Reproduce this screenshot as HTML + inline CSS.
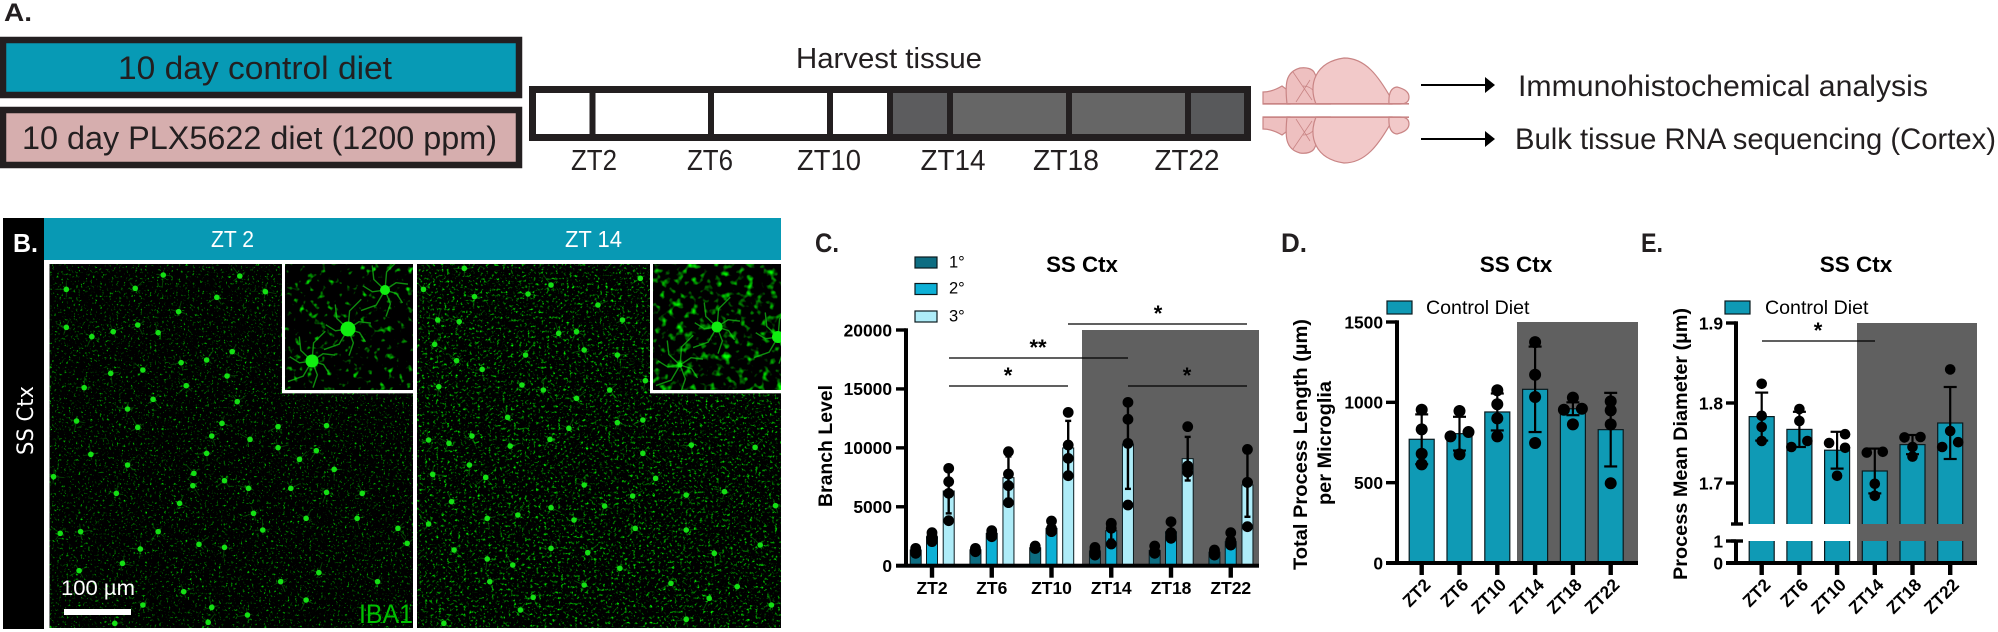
<!DOCTYPE html>
<html lang="en">
<head>
<meta charset="utf-8">
<title>Microglia morphology figure</title>
<style>
html,body{margin:0;padding:0;background:#fff;}
svg{display:block;}
text{font-family:"Liberation Sans",sans-serif;}
.cal{fill:#231f20;}
.bold{font-weight:bold;}
</style>
</head>
<body>
<svg id="fig" xmlns="http://www.w3.org/2000/svg" width="1998" height="632" viewBox="0 0 1998 632">
<defs>
<filter id="noiseL" x="0" y="0" width="100%" height="100%" color-interpolation-filters="sRGB">
<feTurbulence type="fractalNoise" baseFrequency="0.42" numOctaves="3" seed="3"/>
<feColorMatrix type="matrix" values="0 0 0 0 0  3.5 0 0 0 -2.17  0 0 0 0 0  0 0 0 0 1"/>
</filter>
<filter id="noiseR" x="0" y="0" width="100%" height="100%" color-interpolation-filters="sRGB">
<feTurbulence type="fractalNoise" baseFrequency="0.36" numOctaves="3" seed="11"/>
<feColorMatrix type="matrix" values="0 0 0 0 0  3.5 0 0 0 -2.03  0 0 0 0 0  0 0 0 0 1"/>
</filter>
<filter id="noiseIL" x="0" y="0" width="100%" height="100%" color-interpolation-filters="sRGB">
<feTurbulence type="fractalNoise" baseFrequency="0.15" numOctaves="2" seed="7"/>
<feColorMatrix type="matrix" values="0 0 0 0 0  4 0 0 0 -2.42  0 0 0 0 0  0 0 0 0 1"/>
</filter>
<filter id="noiseIR" x="0" y="0" width="100%" height="100%" color-interpolation-filters="sRGB">
<feTurbulence type="fractalNoise" baseFrequency="0.13" numOctaves="2" seed="21"/>
<feColorMatrix type="matrix" values="0 0 0 0 0  3.4 0 0 0 -1.82  0 0 0 0 0  0 0 0 0 1"/>
</filter>
<clipPath id="clipL"><rect x="49.5" y="264" width="363.5" height="364"/></clipPath>
<clipPath id="clipR"><rect x="417" y="264" width="364" height="364"/></clipPath>
<clipPath id="clipIL"><rect x="285" y="264" width="128" height="126"/></clipPath>
<clipPath id="clipIR"><rect x="653" y="264" width="128" height="126"/></clipPath>
</defs>

<!-- Panel A -->
<g>
<text class="cal bold" x="4" y="21" font-size="25" textLength="28" lengthAdjust="spacingAndGlyphs">A.</text>
<rect x="3" y="40" width="516" height="55" fill="#079ab5" stroke="#231f20" stroke-width="6.5"/>
<text class="cal" x="118" y="79" font-size="32" textLength="274" lengthAdjust="spacingAndGlyphs">10 day control diet</text>
<rect x="3" y="110" width="516" height="55" fill="#d6aeae" stroke="#231f20" stroke-width="6.5"/>
<text class="cal" x="22" y="149" font-size="32" textLength="475" lengthAdjust="spacingAndGlyphs">10 day PLX5622 diet (1200 ppm)</text>
<text class="cal" x="796" y="68" font-size="29" textLength="186" lengthAdjust="spacingAndGlyphs">Harvest tissue</text>
<g>
<rect x="536" y="93" width="354" height="41" fill="#fff"/>
<rect x="890" y="93" width="60" height="41" fill="#5c5c5e"/>
<rect x="950" y="93" width="238" height="41" fill="#666666"/>
<rect x="1188" y="93" width="57" height="41" fill="#58595b"/>
<rect x="532.5" y="89.5" width="715" height="48" fill="none" stroke="#231f20" stroke-width="7"/>
<g fill="#231f20">
<rect x="589.5" y="86" width="6" height="55"/>
<rect x="708" y="86" width="6" height="55"/>
<rect x="827" y="86" width="6" height="55"/>
<rect x="887" y="86" width="6" height="55"/>
<rect x="947" y="86" width="6" height="55"/>
<rect x="1066" y="86" width="6" height="55"/>
<rect x="1185" y="86" width="6" height="55"/>
</g>
<g class="cal" font-size="29" text-anchor="middle">
<text class="cal" x="594" y="170" textLength="46" lengthAdjust="spacingAndGlyphs">ZT2</text>
<text class="cal" x="710" y="170" textLength="46" lengthAdjust="spacingAndGlyphs">ZT6</text>
<text class="cal" x="829" y="170" textLength="64" lengthAdjust="spacingAndGlyphs">ZT10</text>
<text class="cal" x="953" y="170" textLength="65" lengthAdjust="spacingAndGlyphs">ZT14</text>
<text class="cal" x="1066" y="170" textLength="66" lengthAdjust="spacingAndGlyphs">ZT18</text>
<text class="cal" x="1187" y="170" textLength="65" lengthAdjust="spacingAndGlyphs">ZT22</text>
</g>
</g>
<g fill="#f2c9c9" stroke="#c98585" stroke-width="1.2">
<path d="M1263,104 L1263,92 Q1272,92 1282,86 L1290,92 L1290,104 Z" fill="#eec0c0"/>
<path d="M1287,104 C1285,85 1285,72 1300,68 C1307,67 1312,69 1314,72 L1330,104 Z" fill="#eec0c0"/>
<path d="M1293,72 L1312,100 M1310,80 L1296,102 M1303,86 Q1314,86 1318,100" fill="none" stroke-width="0.8"/>
<path d="M1316,104 C1308,85 1315,62 1344,58 C1365,58 1378,75 1392,100 L1392,104 Z"/>
<path d="M1389,104 Q1388,88 1397,87 Q1409,90 1409,97 Q1409,104 1400,104 Z"/>
<rect x="1263" y="103" width="146" height="1.6" fill="#c98585" stroke="none"/>
</g>
<g transform="translate(0,221) scale(1,-1)" fill="#f2c9c9" stroke="#c98585" stroke-width="1.2">
<path d="M1263,104 L1263,92 Q1272,92 1282,86 L1290,92 L1290,104 Z" fill="#eec0c0"/>
<path d="M1287,104 C1285,85 1285,72 1300,68 C1307,67 1312,69 1314,72 L1330,104 Z" fill="#eec0c0"/>
<path d="M1293,72 L1312,100 M1310,80 L1296,102 M1303,86 Q1314,86 1318,100" fill="none" stroke-width="0.8"/>
<path d="M1316,104 C1308,85 1315,62 1344,58 C1365,58 1378,75 1392,100 L1392,104 Z"/>
<path d="M1389,104 Q1388,88 1397,87 Q1409,90 1409,97 Q1409,104 1400,104 Z"/>
<rect x="1263" y="103" width="146" height="1.6" fill="#c98585" stroke="none"/>
</g>
<g>
<line x1="1421" y1="85" x2="1488" y2="85" stroke="#000" stroke-width="2"/>
<path d="M1485,77 L1495,85 L1485,93 Z" fill="#000"/>
</g>
<g>
<line x1="1421" y1="139" x2="1488" y2="139" stroke="#000" stroke-width="2"/>
<path d="M1485,131 L1495,139 L1485,147 Z" fill="#000"/>
</g>
<text class="cal" x="1518" y="96" font-size="30" textLength="410" lengthAdjust="spacingAndGlyphs">Immunohistochemical analysis</text>
<text class="cal" x="1515" y="149" font-size="30" textLength="481" lengthAdjust="spacingAndGlyphs">Bulk tissue RNA sequencing (Cortex)</text>
</g>

<!-- Panel B -->
<g>
<rect x="3" y="218" width="41" height="411" fill="#000"/>
<rect x="44" y="218" width="737" height="42" fill="#0899b4"/>
<text class="bold" x="13" y="252" fill="#fff" font-size="26" textLength="25" lengthAdjust="spacingAndGlyphs">B.</text>
<text x="211" y="247" fill="#fff" font-size="23" textLength="43" lengthAdjust="spacingAndGlyphs">ZT 2</text>
<text x="565" y="247" fill="#fff" font-size="23" textLength="57" lengthAdjust="spacingAndGlyphs">ZT 14</text>
<text transform="translate(33,455) rotate(-90)" fill="#fff" font-size="22" textLength="69" lengthAdjust="spacingAndGlyphs" style="font-family:'DejaVu Sans',sans-serif">SS Ctx</text>
<rect x="49.5" y="264" width="363.5" height="364" fill="#000"/>
<rect x="49.5" y="264" width="363.5" height="364" filter="url(#noiseL)"/>
<rect x="417" y="264" width="364" height="364" filter="url(#noiseR)"/>
<g id="cellsL" clip-path="url(#clipL)"></g>
<g id="cellsR" clip-path="url(#clipR)"></g>
<rect x="285" y="264" width="128" height="126" filter="url(#noiseIL)"/>
<rect x="653" y="264" width="128" height="126" filter="url(#noiseIR)"/>
<g id="insetL" clip-path="url(#clipIL)"></g>
<g id="insetR" clip-path="url(#clipIR)"></g>
<g fill="#fff">
<rect x="282" y="264" width="3" height="129"/>
<rect x="282" y="390" width="131" height="3.3"/>
<rect x="650" y="264" width="3" height="129"/>
<rect x="650" y="390" width="131" height="3.3"/>
</g>
<text x="61" y="595" fill="#fff" font-size="21" textLength="74" lengthAdjust="spacingAndGlyphs">100 µm</text>
<rect x="64" y="609" width="67" height="6" fill="#fff"/>
<text x="359" y="623" fill="#00c000" font-size="27" textLength="54" lengthAdjust="spacingAndGlyphs">IBA1</text>
</g>

<!-- Panel letters for charts -->
<text class="cal bold" x="815" y="252" font-size="27" textLength="24" lengthAdjust="spacingAndGlyphs">C.</text>
<text class="cal bold" x="1281" y="252" font-size="27" textLength="26" lengthAdjust="spacingAndGlyphs">D.</text>
<text class="cal bold" x="1641" y="252" font-size="27" textLength="22" lengthAdjust="spacingAndGlyphs">E.</text>

<g id="chartC"></g>
<g id="chartD"></g>
<g id="chartE"></g>
</svg>

<script>
// ---------- chart data ----------
const categories = ['ZT2', 'ZT6', 'ZT10', 'ZT14', 'ZT18', 'ZT22'];

const branchTicks = [0, 5000, 10000, 15000, 20000];
const branchLegend = ['1°', '2°', '3°'];
const branch1Mean = [1330, 1350, 1520, 1250, 1300, 1150];
const branch2Mean = [2460, 2740, 3170, 2970, 2880, 2040];
const branch3Mean = [6340, 7470, 9990, 10320, 9080, 6850];
const branch1Sd = [180, 130, 90, 280, 260, 190];
const branch2Sd = [320, 210, 390, 760, 620, 480];
const branch3Sd = [1900, 1800, 2300, 3800, 1850, 2700];
const branch1Points = [[1470, 1190, 1050, 1330], [1470, 1190, 1270, 1350], [1670, 1470, 1530, 1470], [1550, 1050, 900, 1330], [1670, 1190, 1050, 1100], [1330, 990, 900, 1190]];
const branch2Points = [[2800, 2320, 2040, 2500], [2970, 2690, 2460, 2800], [3790, 3170, 2890, 3030], [3540, 3170, 1840, 3600], [3730, 2800, 2460, 2320], [2800, 2120, 1840, 1750]];
const branch3Points = [[8260, 7130, 6140, 3820], [9675, 7780, 6790, 5350], [13010, 10240, 9110, 7640], [13860, 12420, 10380, 5150], [11800, 8460, 8260, 7920], [9870, 7070, 7070, 3310]];

const lengthTicks = [0, 500, 1000, 1500];
const lengthMean = [770, 805, 940, 1081, 960, 830];
const lengthSd = [155, 105, 115, 266, 40, 229];
const lengthPoints = [[954, 832, 680, 614], [946, 815, 788, 676], [1075, 988, 900, 788], [1375, 1172, 1033, 747], [1029, 960, 954, 863], [1006, 950, 863, 496]];

const diameterUpperTicks = [1.7, 1.8, 1.9];
const diameterLowerTicks = [0, 1];
const diameterMean = [1.783, 1.767, 1.741, 1.715, 1.748, 1.775];
const diameterSd = [0.030, 0.022, 0.023, 0.028, 0.012, 0.045];
const diameterPoints = [[1.824, 1.784, 1.770, 1.7525], [1.7925, 1.7775, 1.7525, 1.745], [1.761, 1.750, 1.744, 1.709], [1.739, 1.738, 1.699, 1.684], [1.7575, 1.757, 1.745, 1.733], [1.842, 1.765, 1.751, 1.745]];

// ---------- decorative micrograph cell sites, in reference pixels ----------
const cellsLeftSites = [[130,238],[265,235],[320,195],[470,198],[520,245],[425,262],[350,305],[270,345],[130,352],[222,365],[180,380],[310,368],[455,425],[355,458],[405,450],[217,490],[280,480],[445,498],[365,527],[165,533],[300,568],[250,597],[465,575],[150,633],[270,652],[435,640],[545,650],[640,647],[415,678],[490,688],[545,713],[620,722],[178,733],[250,765],[405,730],[587,748],[655,778],[380,790],[105,800],[440,812],[228,850],[378,827],[487,835],[570,835],[640,847],[710,850],[352,880],[497,910],[600,925],[700,925],[118,970],[158,965],[310,965],[515,960],[780,955],[275,1017],[390,1003],[440,1012],[798,1000],[240,1060],[155,1082],[625,1088],[550,1115],[740,1115],[360,1145],[600,1170],[415,1192],[280,1185],[485,1215],[408,1237],[225,1240]];
const cellsRightSites = [[910,175],[830,238],[930,260],[1080,225],[1035,252],[1255,205],[858,330],[1220,330],[900,335],[1172,285],[1130,365],[1095,370],[852,403],[1145,420],[1030,435],[945,478],[895,452],[1210,435],[1023,525],[1065,540],[1195,540],[860,530],[1130,565],[1265,512],[995,622],[1210,638],[1260,630],[1115,655],[925,678],[880,700],[1000,708],[1078,688],[840,690],[1260,730],[1355,705],[1480,712],[920,765],[1285,805],[848,793],[952,802],[1145,825],[1345,855],[1420,845],[1240,858],[1185,888],[885,875],[1080,893],[1520,887],[1015,915],[955,925],[840,942],[1125,930],[1245,955],[1345,960],[890,1020],[1080,1015],[1152,1028],[955,1047],[1005,1065],[1215,1075],[1315,1120],[1445,1130],[1045,1162],[1145,1125],[960,1115],[1390,1165],[1512,1185],[1020,1200],[1345,1228],[870,1240],[1400,1030],[1490,1005]];

// ---------- helpers ----------
const NS = 'http://www.w3.org/2000/svg';
function mk(parent, tag, attrs, txt) {
  const node = document.createElementNS(NS, tag);
  for (const k in attrs) node.setAttribute(k, attrs[k]);
  if (txt !== undefined) node.textContent = txt;
  parent.appendChild(node);
  return node;
}

// ---------- micrographs ----------
function drawSites(groupId, sites, colour) {
  const g = document.getElementById(groupId);
  sites.forEach(function (s, i) {
    const x = s[0] / 1.96, y = 210 + s[1] / 3;
    for (let k = 0; k < 4; k++) {
      const a = i * 2.4 + k * 1.57;
      const len = 5 + ((i * 7 + k * 3) % 7);
      const p = mk(g, 'line', {x1: x, y1: y, x2: x + Math.cos(a) * len, y2: y + Math.sin(a) * len, stroke: colour, 'stroke-width': 1, opacity: 0.35});
      
      
    }
    const c = mk(g, 'circle', {cx: x, cy: y, r: 2.8, fill: '#14e014'});
    
    
  });
}
drawSites('cellsL', cellsLeftSites, '#0fb00f');
drawSites('cellsR', cellsRightSites, '#12c012');

function drawInsetCell(groupId, x, y, r) {
  const g = document.getElementById(groupId);
  for (let k = 0; k < 7; k++) {
    const a = k * 0.9 + 0.3;
    const len = 22 + (k * 5) % 14;
    const mx = x + Math.cos(a) * len * 0.55, my = y + Math.sin(a) * len * 0.55;
    const p = mk(g, 'path', {d: 'M' + x + ',' + y + ' L' + mx + ',' + my + ' L' + (mx + Math.cos(a + 0.7) * len * 0.5) + ',' + (my + Math.sin(a + 0.7) * len * 0.5), fill: 'none', stroke: '#14c814', 'stroke-width': 1.4, opacity: 0.7});
    
    
  }
  const c = mk(g, 'circle', {cx: x, cy: y, r: r, fill: '#10ee10'});
  
  
}
drawInsetCell('insetL', 348, 329, 7.5);
drawInsetCell('insetL', 312, 361, 6.5);
drawInsetCell('insetL', 385, 290, 5);
drawInsetCell('insetR', 717, 327, 5.5);
drawInsetCell('insetR', 778, 337, 6);
drawInsetCell('insetR', 680, 365, 2.5);

// ---------- shared chart pieces ----------
function label(g, name, x, y, size, weight, anchor, str) {
  const t = mk(g, 'text', {x: x, y: y, 'font-size': size, 'font-weight': weight, 'text-anchor': anchor, fill: '#000'}, str);
  
  
  return t;
}
function yAxisTick(g, y, x0, x1, txt, labelRight, h) {
  const r = mk(g, 'rect', {x: x0, y: y - h / 2, width: x1 - x0, height: h, fill: '#000'});
  
  
  label(g, 'y-tick-label', labelRight, y + 6.3, 17.4, 'bold', 'end', txt);
}
function xTick(g, x, y0) {
  const r = mk(g, 'rect', {x: x - 2.2, y: y0, width: 4.4, height: 12, fill: '#000'});
  
  
}
function errorBar(g, x, yHi, yLo, cap, w) {
  const v = mk(g, 'line', {x1: x, x2: x, y1: yHi, y2: yLo, stroke: '#000', 'stroke-width': w});
  
  
  [yHi, yLo].forEach(function (yy) {
    const c = mk(g, 'line', {x1: x - cap, x2: x + cap, y1: yy, y2: yy, stroke: '#000', 'stroke-width': w});
    
    
  });
}
function dot(g, x, y, r) {
  const c = mk(g, 'circle', {cx: x, cy: y, r: r, fill: '#000'});
  
  
}
function sigMark(g, x0, x1, y, stars, starX) {
  const l = mk(g, 'line', {x1: x0, x2: x1, y1: y, y2: y, stroke: '#000', 'stroke-width': 1.3});
  
  
  label(g, 'significance-stars', starX, y - 3, 22, 'bold', 'middle', stars);
}
function bar(g, x, w, yTop, yBot, fill, sw) {
  const r = mk(g, 'rect', {x: x - w / 2, y: yTop, width: w, height: Math.max(0, yBot - yTop), fill: fill, stroke: '#0a1a1e', 'stroke-width': sw});
  
  
}
// Beeswarm: points closer than `gap` px vertically are spread left/right.
function swarm(g, x, pts, yFn, spread, r) {
  const ys = pts.map(yFn).sort(function (a, b) { return a - b; });
  let i = 0;
  while (i < ys.length) {
    let j = i;
    while (j + 1 < ys.length && ys[j + 1] - ys[j] < 8.8) j++;
    for (let k = i; k <= j; k++) {
      const off = i === j ? 0 : ((k - i) % 2 === 0 ? spread : -spread);
      dot(g, x + off, ys[k], r);
    }
    i = j + 1;
  }
}
function legendSwatch(g, x, y, w, h, fill, str, textX, textY, size) {
  const r = mk(g, 'rect', {x: x, y: y, width: w, height: h, fill: fill, stroke: '#0a1a1e', 'stroke-width': 1.2});
  
  
  label(g, 'legend-entry', textX, textY, size, 'normal', 'start', str);
}

// ---------- Chart C ----------
(function () {
  const g = document.getElementById('chartC');
  const yOf = function (v) { return 565.7 - v * (235.7 / 20000); };
  const xOf = function (i) { return 932 + i * 59.75; };
  const bg = mk(g, 'rect', {x: 1082, y: yOf(20000), width: 177, height: yOf(0) - yOf(20000), fill: '#606060'});
  
  

  const series = [
    {off: -16.3, mean: branch1Mean, sd: branch1Sd, pts: branch1Points, fill: '#0d6d82'},
    {off: 0, mean: branch2Mean, sd: branch2Sd, pts: branch2Points, fill: '#0db0d6'},
    {off: 16.7, mean: branch3Mean, sd: branch3Sd, pts: branch3Points, fill: '#aeecf8'}
  ];
  series.forEach(function (s) {
    categories.forEach(function (c, i) {
      const x = xOf(i) + s.off;
      bar(g, x, 11, yOf(s.mean[i]), yOf(0), s.fill, 1);
      errorBar(g, x, yOf(s.mean[i] + s.sd[i]), yOf(s.mean[i] - s.sd[i]), 3, 2.4);
      s.pts[i].forEach(function (v) { dot(g, x, yOf(v), 5.4); });
    });
  });

  const axisY = mk(g, 'rect', {x: 904, y: yOf(20000) - 1.7, width: 4, height: yOf(0) - yOf(20000) + 3, fill: '#000'});
  
  
  const axisX = mk(g, 'rect', {x: 896, y: yOf(0) - 2, width: 363, height: 4, fill: '#000'});
  
  
  branchTicks.forEach(function (t) { yAxisTick(g, yOf(t), 896, 906, String(t), 892, 3.4); });
  categories.forEach(function (c, i) {
    xTick(g, xOf(i), yOf(0));
    label(g, 'x-tick-label', xOf(i), 594, 17.5, 'bold', 'middle', c);
  });
  label(g, 'chart-title', 1082, 272, 22.3, 'bold', 'middle', 'SS Ctx');
  const yl = label(g, 'y-axis-title', 0, 0, 19.5, 'bold', 'middle', 'Branch Level');
  yl.setAttribute('transform', 'translate(832,446) rotate(-90)');
  yl.setAttribute('textLength', '122');
  yl.setAttribute('lengthAdjust', 'spacingAndGlyphs');

  [['#0d6d82', 257, 268], ['#0db0d6', 283.5, 294], ['#aeecf8', 311, 322]].forEach(function (l, i) {
    legendSwatch(g, 915, l[1], 22, 11, l[0], branchLegend[i], 949, l[2] - 0.5, 16.5);
  });

  sigMark(g, 1068, 1247, 324, '*', 1158);
  sigMark(g, 949, 1128, 358, '**', 1038);
  sigMark(g, 949, 1068, 386, '*', 1008);
  sigMark(g, 1128, 1247, 386, '*', 1187);
})();

// ---------- Chart D ----------
(function () {
  const g = document.getElementById('chartD');
  const yOf = function (v) { return 563 - v * (241 / 1500); };
  const xOf = function (i) { return 1421.7 + i * 37.8; };
  const bg = mk(g, 'rect', {x: 1517, y: yOf(1500), width: 121, height: yOf(0) - yOf(1500), fill: '#606060'});
  
  
  categories.forEach(function (c, i) {
    const x = xOf(i);
    bar(g, x, 25, yOf(lengthMean[i]), yOf(0), '#0f9ab5', 1.2);
    errorBar(g, x, yOf(lengthMean[i] + lengthSd[i]), yOf(lengthMean[i] - lengthSd[i]), 6.5, 2.2);
    swarm(g, x, lengthPoints[i], yOf, 9, 6);
  });
  const axisY = mk(g, 'rect', {x: 1395, y: yOf(1500) - 1.7, width: 4, height: yOf(0) - yOf(1500) + 3, fill: '#000'});
  
  
  const axisX = mk(g, 'rect', {x: 1386, y: yOf(0) - 2, width: 252, height: 4, fill: '#000'});
  
  
  lengthTicks.forEach(function (t) { yAxisTick(g, yOf(t), 1386, 1397, String(t), 1383, 3.4); });
  categories.forEach(function (c, i) {
    xTick(g, xOf(i), yOf(0));
    const t = label(g, 'x-tick-label', 0, 0, 17.5, 'bold', 'end', c);
    t.setAttribute('transform', 'translate(' + (xOf(i) + 10) + ',586) rotate(-45)');
  });
  label(g, 'chart-title', 1516, 272, 22.5, 'bold', 'middle', 'SS Ctx');
  const y1 = label(g, 'y-axis-title', 0, 0, 19.5, 'bold', 'middle', 'Total Process Length (µm)');
  y1.setAttribute('transform', 'translate(1307,444.5) rotate(-90)');
  y1.setAttribute('textLength', '251');
  y1.setAttribute('lengthAdjust', 'spacingAndGlyphs');
  const y2 = label(g, 'y-axis-title-line-2', 0, 0, 19.5, 'bold', 'middle', 'per Microglia');
  y2.setAttribute('transform', 'translate(1331,443) rotate(-90)');
  y2.setAttribute('textLength', '124');
  y2.setAttribute('lengthAdjust', 'spacingAndGlyphs');
  legendSwatch(g, 1387, 301, 25, 13, '#0f9ab5', 'Control Diet', 1426, 314, 19.6);
})();

// ---------- Chart E (broken axis) ----------
(function () {
  const g = document.getElementById('chartE');
  const yOf = function (v) { return v <= 1 ? 563 - v * 22 : 483 - (v - 1.7) * 800; };
  const xOf = function (i) { return 1761.7 + i * 37.7; };
  const breakTop = 524, breakBottom = 541;
  const bg = mk(g, 'rect', {x: 1857, y: yOf(1.9), width: 120, height: yOf(0) - yOf(1.9), fill: '#606060'});
  
  
  categories.forEach(function (c, i) {
    bar(g, xOf(i), 25, yOf(diameterMean[i]), yOf(0), '#0f9ab5', 1.2);
  });
  const bandLight = mk(g, 'rect', {x: 1726, y: breakTop, width: 131, height: breakBottom - breakTop, fill: '#fff'});
  
  
  const bandDark = mk(g, 'rect', {x: 1857, y: breakTop, width: 120, height: breakBottom - breakTop, fill: '#606060'});
  
  
  categories.forEach(function (c, i) {
    const x = xOf(i);
    errorBar(g, x, yOf(diameterMean[i] + diameterSd[i]), yOf(diameterMean[i] - diameterSd[i]), 6.5, 2.2);
    swarm(g, x, diameterPoints[i], yOf, 8, 5.3);
  });
  [[yOf(1.9) - 1.7, breakTop], [breakBottom, yOf(0)]].forEach(function (seg) {
    const a = mk(g, 'rect', {x: 1734, y: seg[0], width: 4, height: seg[1] - seg[0], fill: '#000'});
    
    
  });
  [breakTop, breakBottom].forEach(function (yy) {
    const b = mk(g, 'rect', {x: 1731, y: yy - 1.7, width: 12, height: 3.4, fill: '#000'});
    
    
  });
  const axisX = mk(g, 'rect', {x: 1726, y: yOf(0) - 2, width: 251, height: 4, fill: '#000'});
  
  
  diameterUpperTicks.forEach(function (t) { yAxisTick(g, yOf(t), 1726, 1736, t.toFixed(1), 1723, 3.4); });
  diameterLowerTicks.forEach(function (t) { yAxisTick(g, yOf(t), 1726, 1736, String(t), 1723, 3.4); });
  categories.forEach(function (c, i) {
    xTick(g, xOf(i), yOf(0));
    const t = label(g, 'x-tick-label', 0, 0, 17.5, 'bold', 'end', c);
    t.setAttribute('transform', 'translate(' + (xOf(i) + 10) + ',586) rotate(-45)');
  });
  label(g, 'chart-title', 1856, 272, 22.5, 'bold', 'middle', 'SS Ctx');
  const y1 = label(g, 'y-axis-title', 0, 0, 19.5, 'bold', 'middle', 'Process Mean Diameter (µm)');
  y1.setAttribute('transform', 'translate(1687,444) rotate(-90)');
  y1.setAttribute('textLength', '272');
  y1.setAttribute('lengthAdjust', 'spacingAndGlyphs');
  legendSwatch(g, 1725, 301, 25, 13, '#0f9ab5', 'Control Diet', 1765, 314, 19.6);
  sigMark(g, 1762, 1875, 341, '*', 1818);
})();
</script>
</body>
</html>
